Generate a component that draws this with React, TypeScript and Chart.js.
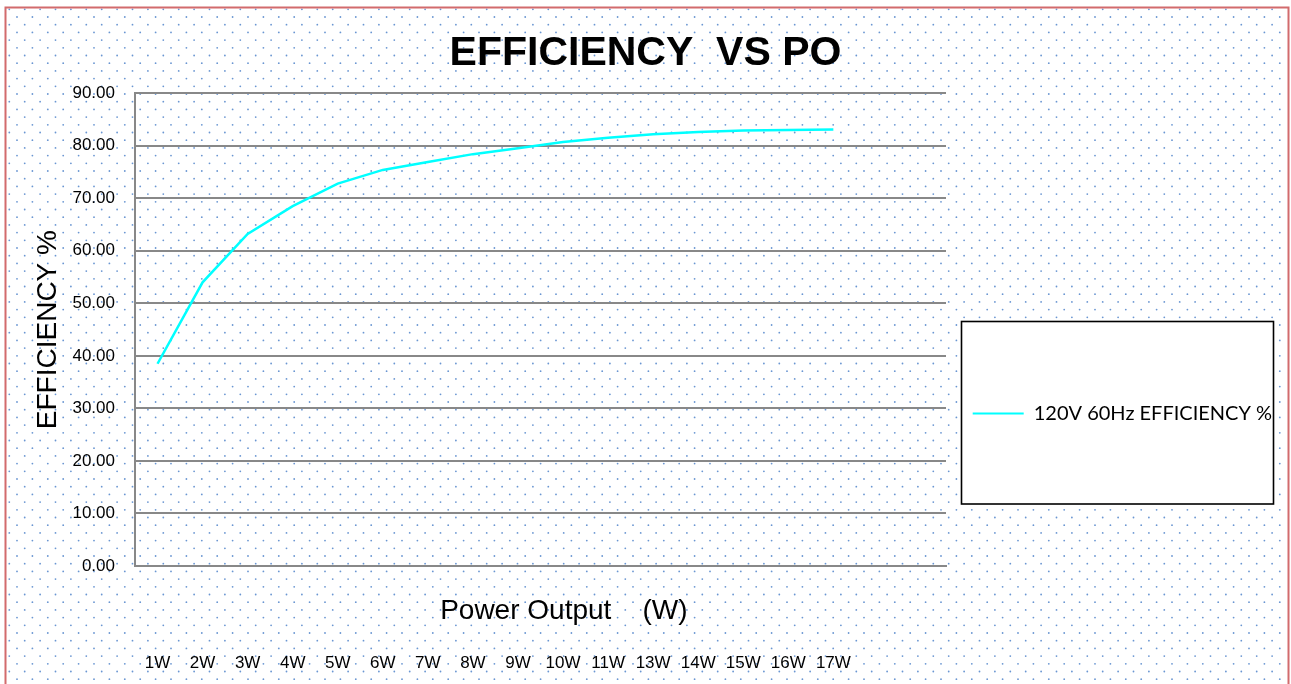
import React, { useEffect, useRef } from 'react';
import { Chart, registerables } from 'chart.js';

Chart.register(...registerables);

// ---- data ----
const categories = ['1W', '2W', '3W', '4W', '5W', '6W', '7W', '8W', '9W', '10W', '11W', '13W', '14W', '15W', '16W', '17W', '', ''];
const efficiency = [38.5, 54.0, 63.2, 68.5, 72.8, 75.4, 76.9, 78.4, 79.5, 80.7, 81.5, 82.2, 82.6, 82.9, 83.0, 83.1];
const yMin = 0;
const yMax = 90;
const yStep = 10;
const seriesLabel = '120V 60Hz EFFICIENCY %';
const chartTitle = 'EFFICIENCY  VS PO';
const xTitle = '      Power Output    (W)';
const yTitle = 'EFFICIENCY %';

const FONT = "'Liberation Sans', Arial, sans-serif";

const framePlugin = {
  id: 'framePlugin',
  beforeDraw(chart: any) {
    const ctx = chart.ctx as CanvasRenderingContext2D;
    const W = chart.width;
    const H = chart.height;
    ctx.save();
    ctx.fillStyle = '#ffffff';
    ctx.fillRect(0, 0, W, H);
    // dotted pattern inside frame
    ctx.fillStyle = '#6a96d2';
    const dx = 15.4;
    const dy = 7.7;
    for (let r = 0; ; r++) {
      const y = 9.3 + r * dy;
      if (y > H) break;
      const off = (r % 2) * (dx / 2);
      for (let x = 9.3 + off; x < 1287; x += dx) {
        ctx.beginPath();
        ctx.arc(x, y, 0.9, 0, Math.PI * 2);
        ctx.fill();
      }
    }
    // outer frame
    ctx.strokeStyle = '#d26b6d';
    ctx.lineWidth = 2;
    ctx.strokeRect(5.5, 7.5, 1283, 700);
    // legend box
    ctx.fillStyle = '#ffffff';
    ctx.fillRect(961.5, 321.5, 312, 182.5);
    ctx.strokeStyle = '#000000';
    ctx.lineWidth = 1.6;
    ctx.strokeRect(961.5, 321.5, 312, 182.5);
    ctx.restore();
    const lg = chart.legend;
    if (lg) {
      lg.left = 962.7;
      lg.top = 393.5;
      lg.right = 1291;
      lg.bottom = 450;
      lg.width = lg.right - lg.left;
      lg.height = lg.bottom - lg.top;
    }
  },
};

export default function App() {
  const ref = useRef<HTMLCanvasElement | null>(null);

  useEffect(() => {
    document.body.style.margin = '0';
    const canvas = ref.current;
    if (!canvas) return;
    const chart = new Chart(canvas, {
      type: 'line',
      data: {
        labels: categories,
        datasets: [
          {
            label: seriesLabel,
            data: efficiency,
            borderColor: '#00FFFF',
            backgroundColor: '#00FFFF',
            borderWidth: 2.5,
            pointRadius: 0,
            tension: 0,
            fill: false,
            xAxisID: 'x',
            yAxisID: 'y',
          },
        ],
      },
      options: {
        responsive: false,
        animation: false,
        layout: { padding: { top: 0, left: 0, right: 0, bottom: 11 } },
        plugins: {
          title: {
            display: true,
            text: chartTitle,
            color: '#000',
            font: { family: FONT, size: 41, weight: 'bold' },
            padding: { top: 29, bottom: 15 },
          },
          legend: {
            display: true,
            position: 'chartArea',
            align: 'start',
            labels: {
              boxWidth: 51,
              boxHeight: 2,
              padding: 10,
              color: '#000',
              font: { family: 'Lato', size: 20 },
              generateLabels: () => [
                {
                  text: seriesLabel,
                  fillStyle: '#00FFFF',
                  strokeStyle: '#00FFFF',
                  lineWidth: 0,
                  hidden: false,
                  datasetIndex: 0,
                },
              ],
            },
          },
          tooltip: { enabled: false },
        },
        scales: {
          x: {
            type: 'category',
            position: 'bottom',
            offset: true,
            weight: 0,
            grid: { display: false, drawTicks: false },
            border: { display: true, color: '#888888', width: 2 },
            ticks: { display: false },
            title: {
              display: true,
              text: xTitle,
              color: '#000',
              font: { family: FONT, size: 28 },
              padding: { top: 28, bottom: 10 },
            },
            afterFit: (s: any) => {
              s.height = 72;
            },
          },
          x2: {
            type: 'category',
            position: 'bottom',
            offset: true,
            weight: 1,
            grid: { display: false, drawTicks: false },
            border: { display: false },
            ticks: {
              color: '#000',
              font: { family: FONT, size: 17 },
              padding: 15,
              autoSkip: false,
              maxRotation: 0,
            },
            afterFit: (s: any) => {
              s.height = 35;
            },
          },
          y: {
            position: 'left',
            min: yMin,
            max: yMax,
            ticks: {
              stepSize: yStep,
              color: '#000',
              font: { family: FONT, size: 17 },
              padding: 20,
              callback: (v: any) => Number(v).toFixed(2),
            },
            grid: { color: '#888888', lineWidth: 2, drawTicks: false },
            border: { display: true, color: '#888888', width: 2 },
            title: {
              display: true,
              text: yTitle,
              color: '#000',
              font: { family: FONT, size: 28 },
              padding: { top: 31, bottom: 0 },
            },
            afterFit: (s: any) => {
              s.width = 135;
            },
          },
          yR: {
            position: 'right',
            display: true,
            grid: { display: false, drawTicks: false },
            border: { display: false },
            ticks: { display: false },
            afterFit: (s: any) => {
              s.width = 345;
            },
          },
        },
      } as any,
      plugins: [framePlugin],
    });
    return () => chart.destroy();
  }, []);

  return (
    <div style={{ width: 1291, height: 684 }}>
      <canvas ref={ref} width={1291} height={684} style={{ display: 'block' }} />
    </div>
  );
}
